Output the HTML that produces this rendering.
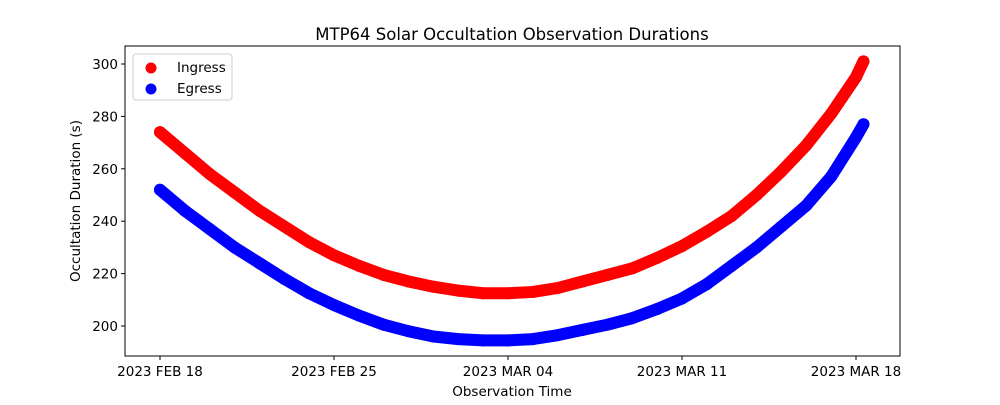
<!DOCTYPE html>
<html><head><meta charset="utf-8"><style>
body{margin:0;background:#fff;font-family:"Liberation Sans","DejaVu Sans",sans-serif}
svg text{font-family:"DejaVu Sans","Liberation Sans",sans-serif;fill:#000}
</style></head><body>
<svg width="1000" height="400" viewBox="0 0 1000 400">
<text x="512" y="40" font-size="16.5" text-anchor="middle">MTP64 Solar Occultation Observation Durations</text>
<g id="plot"></g>
<rect x="125" y="46" width="775" height="310" fill="none" stroke="#000" stroke-width="1"/>
<g id="xt"></g><g id="yt"></g>
<text x="512" y="396" font-size="13.5" text-anchor="middle">Observation Time</text>
<text transform="translate(80,201) rotate(-90)" font-size="13.5" text-anchor="middle">Occultation Duration (s)</text>
<g>
<rect x="133" y="54" width="99" height="46" rx="3" fill="#fff" stroke="#ccc"/>
<circle cx="151" cy="68" r="5.5" fill="red"/>
<text x="177" y="72" font-size="13.5">Ingress</text>
<circle cx="151" cy="89" r="5.5" fill="blue"/>
<text x="177" y="93" font-size="13.5">Egress</text>
</g>
</svg>
<script>
const days=[0,1,2,3,4,5,6,7,8,9,10,11,12,13,14,15,16,17,18,19,20,21,22,23,24,25,26,27,28,28.3];
const ingress=[274,266,258,251,244,238,232,227,223,219.5,217,215,213.5,212.5,212.5,213,214.5,217,219.5,222,226,230.5,236,242,250,259,269,281,295,301];
const egress=[252,244,237,230,224,218,212.5,208,204,200.5,198,196,195,194.5,194.5,195,196.5,198.5,200.5,203,206.5,210.5,216,223,230,238,246,257,272,277];
const xTickDays=[0,7,14,21,28];
const xTickLabels=["2023 FEB 18","2023 FEB 25","2023 MAR 04","2023 MAR 11","2023 MAR 18"];
const yTicks=[200,220,240,260,280,300];
const NS="http://www.w3.org/2000/svg";
const X=d=>160+d*24.857, Y=v=>326-(v-200)*2.62;
function mk(t,a,p){const e=document.createElementNS(NS,t);for(const k in a)e.setAttribute(k,a[k]);p.appendChild(e);return e;}
const plot=document.getElementById('plot');
[[ingress,'red','ingress'],[egress,'blue','egress']].forEach(([vals,c,n])=>{
  const pts=days.map((d,i)=>X(d)+','+Y(vals[i])).join(' ');
  const pl=mk('polyline',{points:pts,fill:'none',stroke:c,'stroke-width':12,'stroke-linecap':'round','stroke-linejoin':'round'},plot);
  
  
  days.forEach((d,i)=>{const ci=mk('circle',{cx:X(d),cy:Y(vals[i]),r:6,fill:c},plot);
    
    });
});
const xt=document.getElementById('xt');
xTickDays.forEach((d,i)=>{mk('line',{x1:X(d),x2:X(d),y1:356,y2:360,stroke:'#000'},xt);
  const t=mk('text',{x:X(d),y:376,'font-size':13.5,'text-anchor':'middle'},xt);t.textContent=xTickLabels[i];
  
  });
const yt=document.getElementById('yt');
yTicks.forEach(v=>{mk('line',{x1:121,x2:125,y1:Y(v),y2:Y(v),stroke:'#000'},yt);
  const t=mk('text',{x:118,y:Y(v)+5,'font-size':13.5,'text-anchor':'end'},yt);t.textContent=v;
  
  });
</script>
</body></html>
